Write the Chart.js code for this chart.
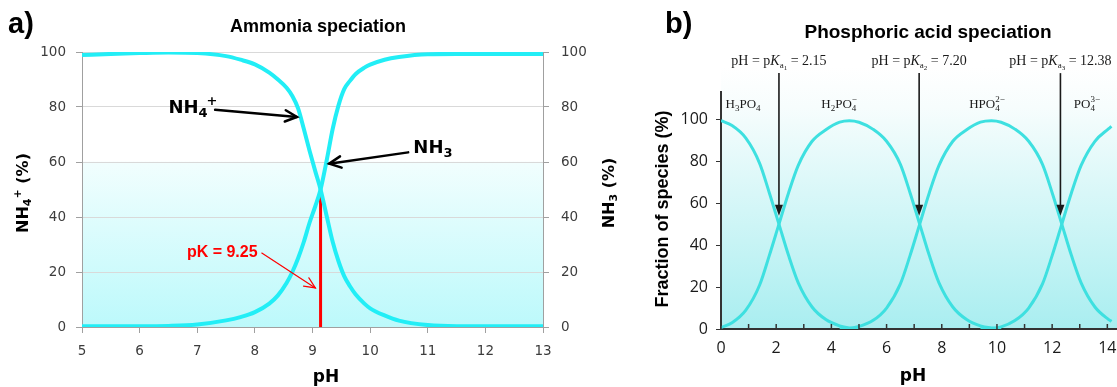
<!DOCTYPE html>
<html><head><meta charset="utf-8">
<script src="https://cdn.jsdelivr.net/npm/chart.js@4/dist/chart.umd.min.js"></script>
<style>
html,body{margin:0;padding:0;background:#fff;}
#wrap{position:relative;width:1117px;height:387px;overflow:hidden;background:#fff;}
#ca{position:absolute;left:0;top:0;}
#cb{position:absolute;left:640px;top:0;}
</style></head><body>
<div id="wrap"><canvas id="ca" width="640" height="387"></canvas><canvas id="cb" width="477" height="387"></canvas></div>
<script>
// ---------- Panel a: Ammonia speciation ----------
const phA    = [5, 5.5, 6, 6.5, 7, 7.5, 7.75, 8, 8.25, 8.4, 8.55, 8.65, 8.75, 8.85, 8.95, 9.05, 9.14, 9.25, 9.35, 9.45, 9.55, 9.65, 9.75, 9.9, 10, 10.25, 10.5, 11, 11.5, 12, 12.5, 13];
const nh4Pct = [98.9, 99.3, 99.6, 99.8, 99.6, 98.5, 97.2, 95.5, 92.5, 90, 87, 84, 79.5, 72, 64, 56.5, 50, 40, 31, 24, 18.5, 14.8, 11.8, 8.5, 6.8, 4.2, 2.3, 0.7, 0.3, 0.3, 0.3, 0.3];
const nh3Pct = [0.3, 0.3, 0.3, 0.4, 0.9, 2.4, 3.6, 5.4, 8.5, 11.5, 16, 20, 25, 31, 38, 44, 50, 61, 72, 80.5, 86.5, 89.5, 92, 94.3, 95.4, 97.2, 98.2, 99.2, 99.3, 99.3, 99.3, 99.3];
const pkLineX = [9.14, 9.14];
const pkLineY = [0, 48.4];
const xTicksA = [5, 6, 7, 8, 9, 10, 11, 12, 13];
const yTicksA = [0, 20, 40, 60, 80, 100];

// ---------- Panel b: Phosphoric acid speciation ----------
const phB   = [0, 0.4, 0.9, 1.4, 1.75, 2.1, 2.45, 2.8, 3.3, 3.8, 4.3, 4.65, 5.0, 5.5, 6.0, 6.5, 6.85, 7.2, 7.55, 7.9, 8.4, 8.9, 9.4, 9.8, 10.15, 10.65, 11.15, 11.65, 12.0, 12.35, 12.7, 13.05, 13.55, 14.05, 14.15];
const h3po4 = [99.3, 97, 91, 79, 65, 50, 35, 22, 10.5, 4.5, 1.5, 0.5, 0.1, null, null, null, null, null, null, null, null, null, null, null, null, null, null, null, null, null, null, null, null, null, null];
const h2po4 = [0.7, 3, 9, 21, 35, 50, 65, 78, 89.5, 95, 98.6, 99.3, 98.6, 95.3, 89.5, 78.5, 65, 50, 35, 22, 10.5, 4.5, 1.5, 0.5, 0.1, null, null, null, null, null, null, null, null, null, null];
const hpo4  = [null, null, null, null, null, null, null, null, null, null, 0.1, 0.3, 1.2, 4, 10, 21.5, 35, 50, 65, 78, 89.5, 95, 98.6, 99.3, 98.6, 95.3, 89.5, 78.5, 65, 50, 35, 22, 10.5, 4.5, 3.6];
const po4   = [null, null, null, null, null, null, null, null, null, null, null, null, null, null, null, null, null, null, null, null, null, null, 0.1, 0.3, 1.0, 4, 10, 21.5, 35, 50, 65, 78, 89.5, 95.5, 96.6];
const xTicksB = [0, 1, 2, 3, 4, 5, 6, 7, 8, 9, 10, 11, 12, 13, 14];
const yTicksB = [0, 20, 40, 60, 80, 100];
const pKaArrowX = [2.1, 7.18, 12.3];
const pKaText   = ['2.15', '7.20', '12.38'];

function pts(xs, ys){ return xs.map((x,i)=>({x:x, y:ys[i]})).filter(p=>p.y!==null); }

function line(ctx,x1,y1,x2,y2){ctx.beginPath();ctx.moveTo(x1,y1);ctx.lineTo(x2,y2);ctx.stroke();}
function openArrow(ctx,x1,y1,x2,y2,len,ang){
  line(ctx,x1,y1,x2,y2);
  const a=Math.atan2(y2-y1,x2-x1);
  ctx.beginPath();
  ctx.moveTo(x2-len*Math.cos(a-ang), y2-len*Math.sin(a-ang));
  ctx.lineTo(x2,y2);
  ctx.lineTo(x2-len*Math.cos(a+ang), y2-len*Math.sin(a+ang));
  ctx.stroke();
}
function partW(ctx,p){
  ctx.font=p.font;
  if(p.stack) return Math.max(ctx.measureText(p.stack[0]).width, ctx.measureText(p.stack[1]).width);
  return ctx.measureText(p.t).width + (p.dx||0);
}
function drawRich(ctx, parts, x, y, align){
  let w=0; for(const p of parts) w+=partW(ctx,p);
  let cx = align==='center' ? x-w/2 : (align==='right' ? x-w : x);
  ctx.textAlign='left'; ctx.textBaseline='alphabetic';
  for(const p of parts){
    ctx.font=p.font;
    if(p.stack){
      ctx.fillText(p.stack[0], cx, y+p.dySup);
      ctx.fillText(p.stack[1], cx, y+p.dySub);
    } else {
      ctx.fillText(p.t, cx+(p.dx||0), y+(p.dy||0));
    }
    cx += partW(ctx,p);
  }
}
const DB = s => `bold ${s}px "DejaVu Sans"`;
const LB = s => `bold ${s}px "Liberation Sans"`;
const SR = s => `${s}px "Liberation Serif"`;
const SI = s => `italic ${s}px "Liberation Serif"`;
const noPad = s => { s.paddingLeft = 0; s.paddingRight = 0; };

const annA = {
  id:'annA',
  beforeDraw(chart){
    const {ctx, chartArea:a} = chart;
    const g = ctx.createLinearGradient(0,a.top,0,a.bottom);
    g.addColorStop(0,'#ffffff'); g.addColorStop(0.395,'#ffffff');
    g.addColorStop(0.405,'#f1fefe'); g.addColorStop(1,'#bcf9fb');
    ctx.save(); ctx.fillStyle=g; ctx.fillRect(a.left,a.top,a.right-a.left,a.bottom-a.top); ctx.restore();
  },
  afterDraw(chart){
    const ctx=chart.ctx, xs=chart.scales.x, ys=chart.scales.y;
    const X=v=>xs.getPixelForValue(v), Y=v=>ys.getPixelForValue(v);
    ctx.save();
    ctx.fillStyle='#000';
    ctx.textAlign='left'; ctx.textBaseline='alphabetic';
    ctx.font=LB(29); ctx.fillText('a)', 8, 33);
    ctx.font=LB(18); ctx.textAlign='center'; ctx.fillText('Ammonia speciation', 318, 32);
    ctx.font=DB(17); ctx.fillText('pH', 326, 382);
    // rotated axis titles
    ctx.save(); ctx.translate(28, 193); ctx.rotate(-Math.PI/2);
    drawRich(ctx,[{t:'NH',font:DB(16)},{t:'4',font:DB(11),dy:3},{t:'+',font:DB(11),dy:-7},{t:' (%)',font:DB(16)}],0,0,'center');
    ctx.restore();
    ctx.save(); ctx.translate(614, 193); ctx.rotate(-Math.PI/2);
    drawRich(ctx,[{t:'NH',font:DB(16)},{t:'3',font:DB(11),dy:3},{t:' (%)',font:DB(16)}],0,0,'center');
    ctx.restore();
    // NH4+ label and arrow
    drawRich(ctx,[{t:'NH',font:DB(18)},{t:'4',font:DB(13),dy:4},{t:'+',font:DB(13),dy:-8,dx:-1}],X(6.5),Y(77.8),'left');
    ctx.strokeStyle='#000'; ctx.lineWidth=2.5; ctx.lineCap='round';
    openArrow(ctx,X(7.31),Y(79.0),X(8.73),Y(76.4),13,0.45);
    // NH3 label and arrow
    drawRich(ctx,[{t:'NH',font:DB(18)},{t:'3',font:DB(13),dy:4}],X(10.75),Y(63.3),'left');
    openArrow(ctx,X(10.66),Y(63.5),X(9.29),Y(59.4),13,0.45);
    // pK label and arrow
    ctx.fillStyle='#ff0000'; ctx.font=LB(16); ctx.textAlign='left';
    ctx.fillText('pK = 9.25', X(6.82), Y(25.5));
    ctx.strokeStyle='#ff0000'; ctx.lineWidth=1.2;
    openArrow(ctx,X(8.12),Y(26.9),X(9.05),Y(14.2),12,0.42);
    ctx.restore();
  }
};

const tickFontA = {family:'DejaVu Sans', size:13.5};
new Chart(document.getElementById('ca'), {
  type:'line',
  data:{ datasets:[
    {label:'NH4+', data:pts(phA,nh4Pct), yAxisID:'y', borderColor:'#22eef6', borderWidth:4, pointRadius:0, cubicInterpolationMode:'monotone', fill:false},
    {label:'NH3', data:pts(phA,nh3Pct), yAxisID:'y2', borderColor:'#22eef6', borderWidth:4, pointRadius:0, cubicInterpolationMode:'monotone', fill:false},
    {label:'pK', data:pts(pkLineX,pkLineY), yAxisID:'y', borderColor:'#ff0000', borderWidth:3, pointRadius:0, fill:false}
  ]},
  options:{
    responsive:false, animation:false, devicePixelRatio:1,
    layout:{padding:{top:52,left:0,right:0,bottom:0}},
    plugins:{legend:{display:false}, tooltip:{enabled:false}, title:{display:false}},
    scales:{
      x:{type:'linear', min:5, max:13,
        afterBuildTicks:s=>{s.ticks=xTicksA.map(v=>({value:v}));},
        afterFit:s=>{s.height=60; noPad(s);},
        ticks:{font:tickFontA, color:'#3c3c3c', padding:10, maxRotation:0, autoSkip:false},
        grid:{drawOnChartArea:false, drawTicks:true, tickLength:6, tickColor:'#a0a0a0'},
        border:{color:'#a0a0a0', width:1}},
      y:{type:'linear', position:'left', min:0, max:100,
        afterBuildTicks:s=>{s.ticks=yTicksA.map(v=>({value:v}));},
        afterFit:s=>{s.width=82;},
        ticks:{font:tickFontA, color:'#3c3c3c', padding:10},
        grid:{color:'#d9d9d9', tickColor:'#a0a0a0', tickLength:6},
        border:{color:'#a0a0a0', width:1}},
      y2:{type:'linear', position:'right', min:0, max:100,
        afterBuildTicks:s=>{s.ticks=yTicksA.map(v=>({value:v}));},
        afterFit:s=>{s.width=97;},
        ticks:{font:tickFontA, color:'#3c3c3c', padding:12},
        grid:{drawOnChartArea:false, tickColor:'#a0a0a0', tickLength:6},
        border:{color:'#a0a0a0', width:1}}
    }
  },
  plugins:[annA]
});

const annB = {
  id:'annB',
  beforeDraw(chart){
    const {ctx, chartArea:a} = chart;
    const top=a.top-25;
    const g = ctx.createLinearGradient(0,top,0,a.bottom);
    g.addColorStop(0,'#ffffff'); g.addColorStop(0.15,'#f7fdfd'); g.addColorStop(1,'#a9eef0');
    ctx.save(); ctx.fillStyle=g; ctx.fillRect(a.left,top,a.right-a.left,a.bottom-top); ctx.restore();
  },
  afterDraw(chart){
    const ctx=chart.ctx, xs=chart.scales.x, ys=chart.scales.y, a=chart.chartArea;
    const X=v=>xs.getPixelForValue(v), Y=v=>ys.getPixelForValue(v);
    ctx.save();
    // inward tick marks on the pH axis
    ctx.strokeStyle='#333'; ctx.lineWidth=1.5;
    for(const v of xTicksB){ line(ctx,X(v),a.bottom,X(v),a.bottom-5); }
    ctx.fillStyle='#000';
    ctx.font=LB(29); ctx.textAlign='left'; ctx.textBaseline='alphabetic';
    ctx.fillText('b)', 665-640, 33);
    ctx.font=LB(19); ctx.textAlign='center';
    ctx.fillText('Phosphoric acid speciation', 928-640, 38);
    ctx.font=DB(17); ctx.fillText('pH', 913-640, 381);
    ctx.save(); ctx.translate(668-640, 209); ctx.rotate(-Math.PI/2);
    ctx.font=LB(18); ctx.textAlign='center'; ctx.fillText('Fraction of species (%)',0,0);
    ctx.restore();
    // pKa annotations and arrows
    ctx.fillStyle='#1a1a1a'; ctx.strokeStyle='#1a1a1a';
    for(let i=0;i<pKaArrowX.length;i++){
      const x=X(pKaArrowX[i]);
      drawRich(ctx,[{t:'pH = p',font:SR(14)},{t:'K',font:SI(14)},{t:'a',font:SR(9),dy:3},{t:String(i+1),font:SR(7),dy:5},{t:' = '+pKaText[i],font:SR(14)}],x,Y(126),'center');
      ctx.lineWidth=1.6;
      const y1=Y(122), y2=Y(54);
      line(ctx,x,y1,x,y2-9);
      ctx.beginPath(); ctx.moveTo(x-4,y2-11); ctx.lineTo(x+4,y2-11); ctx.lineTo(x,y2); ctx.closePath(); ctx.fill();
    }
    // species labels
    const yl=Y(105.4);
    drawRich(ctx,[{t:'H',font:SR(13)},{t:'3',font:SR(9),dy:3},{t:'PO',font:SR(13)},{t:'4',font:SR(9),dy:3}],X(0.8),yl,'center');
    drawRich(ctx,[{t:'H',font:SR(13)},{t:'2',font:SR(9),dy:3},{t:'PO',font:SR(13)},{stack:['\u2212','4'],font:SR(9),dySup:-6,dySub:3}],X(4.28),yl,'center');
    drawRich(ctx,[{t:'HPO',font:SR(13)},{stack:['2\u2212','4'],font:SR(9),dySup:-6,dySub:3}],X(9.64),yl,'center');
    drawRich(ctx,[{t:'PO',font:SR(13)},{stack:['3\u2212','4'],font:SR(9),dySup:-6,dySub:3}],X(13.26),yl,'center');
    ctx.restore();
  }
};

const tickFontB = {family:'Open Sans', size:16};
const lineB = '#3ee0e0';
new Chart(document.getElementById('cb'), {
  type:'line',
  data:{ datasets:[
    {label:'H3PO4', data:pts(phB,h3po4), borderColor:lineB, borderWidth:3, pointRadius:0, cubicInterpolationMode:'monotone', fill:false},
    {label:'H2PO4-', data:pts(phB,h2po4), borderColor:lineB, borderWidth:3, pointRadius:0, cubicInterpolationMode:'monotone', fill:false},
    {label:'HPO4 2-', data:pts(phB,hpo4), borderColor:lineB, borderWidth:3, pointRadius:0, cubicInterpolationMode:'monotone', fill:false},
    {label:'PO4 3-', data:pts(phB,po4), borderColor:lineB, borderWidth:3, pointRadius:0, cubicInterpolationMode:'monotone', fill:false}
  ]},
  options:{
    responsive:false, animation:false, devicePixelRatio:1,
    layout:{padding:{top:92,left:0,right:0,bottom:0}},
    plugins:{legend:{display:false}, tooltip:{enabled:false}, title:{display:false}},
    scales:{
      x:{type:'linear', min:0, max:14.35,
        afterBuildTicks:s=>{s.ticks=xTicksB.map(v=>({value:v}));},
        afterFit:s=>{s.height=58; noPad(s);},
        ticks:{font:tickFontB, color:'#1a1a1a', padding:10, maxRotation:0, autoSkip:false, callback:v=>(v%2===0?String(v):'')},
        grid:{display:false, drawTicks:false},
        border:{color:'#333', width:2}},
      y:{type:'linear', position:'left', min:0, max:113,
        afterBuildTicks:s=>{s.ticks=yTicksB.map(v=>({value:v}));},
        afterFit:s=>{s.width=81;},
        ticks:{font:tickFontB, color:'#1a1a1a', padding:8},
        grid:{display:true, drawOnChartArea:false, drawTicks:true, tickLength:5, tickColor:'#333'},
        border:{color:'#333', width:2}}
    }
  },
  plugins:[annB]
});
</script></body></html>
